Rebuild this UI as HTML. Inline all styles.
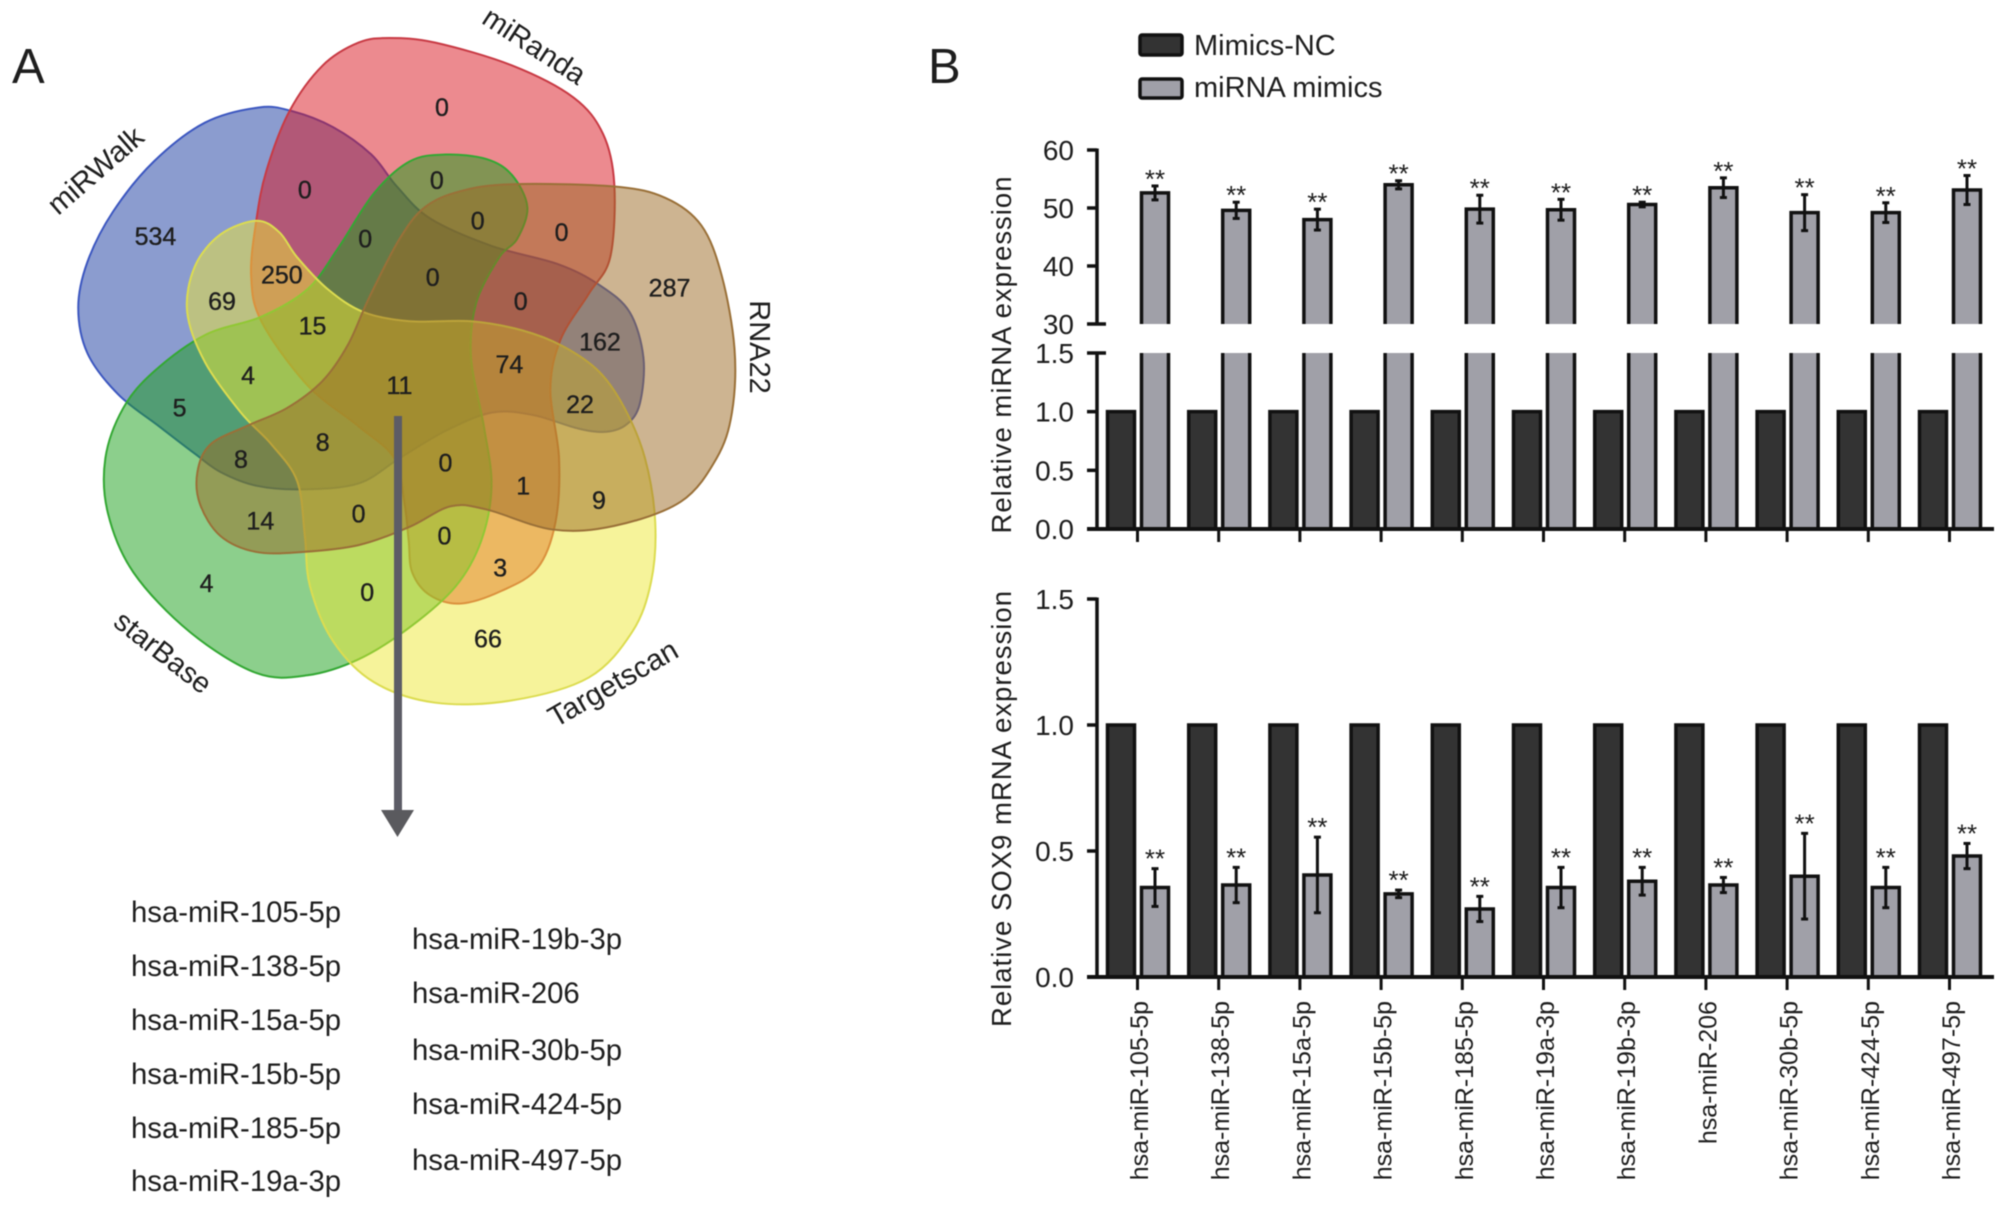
<!DOCTYPE html>
<html lang="en">
<head>
<meta charset="utf-8">
<title>Venn diagram and miRNA / SOX9 expression bar charts</title>
<style>
html,body{margin:0;padding:0;background:#fff;width:2008px;height:1208px;overflow:hidden}
svg{display:block;font-family:"Liberation Sans",sans-serif}
text{fill:#1e1e1e}
.soft{filter:blur(.65px)}
</style>
</head>
<body>
<svg id="fig" xmlns="http://www.w3.org/2000/svg" width="2008" height="1208" viewBox="0 0 2008 1208">
  <rect width="2008" height="1208" fill="#fff"/>
  <g id="root" class="soft">
    <text x="12" y="83" font-size="49">A</text>
    <text x="928" y="83" font-size="49">B</text>

    <g id="venn"></g>
    <g id="vennCounts"></g>

    <text font-size="29.500" text-anchor="middle" transform="translate(102,178) rotate(-41)">miRWalk</text>
    <text font-size="29" text-anchor="middle" transform="translate(529,54) rotate(33)">miRanda</text>
    <text font-size="29" text-anchor="middle" transform="translate(750,347) rotate(90)">RNA22</text>
    <text font-size="29" text-anchor="middle" transform="translate(157,660) rotate(38)">starBase</text>
    <text font-size="29.500" text-anchor="middle" transform="translate(618,692) rotate(-30)">Targetscan</text>

    <rect x="394" y="416" width="8" height="396" fill="#5c5c66"/>
    <polygon points="381,810 414,810 397.500,837" fill="#5a5a5e"/>

    <g font-size="29.300">
      <text x="131" y="922">hsa-miR-105-5p</text>
      <text x="131" y="976">hsa-miR-138-5p</text>
      <text x="131" y="1030">hsa-miR-15a-5p</text>
      <text x="131" y="1084">hsa-miR-15b-5p</text>
      <text x="131" y="1138">hsa-miR-185-5p</text>
      <text x="131" y="1191">hsa-miR-19a-3p</text>
    </g>
    <g font-size="29.300">
      <text x="412" y="949">hsa-miR-19b-3p</text>
      <text x="412" y="1003">hsa-miR-206</text>
      <text x="412" y="1060">hsa-miR-30b-5p</text>
      <text x="412" y="1114">hsa-miR-424-5p</text>
      <text x="412" y="1170">hsa-miR-497-5p</text>
    </g>

    <g>
      <g>
        <rect x="1140" y="35" width="42" height="20" rx="2" fill="#333" stroke="#111" stroke-width="3.500"/>
        <text x="1194" y="55" font-size="29">Mimics-NC</text>
      </g>
      <g>
        <rect x="1140" y="79" width="42" height="19" rx="2" fill="#a0a0a8" stroke="#111" stroke-width="3.500"/>
        <text x="1194" y="97" font-size="29">miRNA mimics</text>
      </g>
    </g>

    <text font-size="27.500" text-anchor="middle" transform="translate(1011,355) rotate(-90)" textLength="357" lengthAdjust="spacing">Relative miRNA expression</text>
    <text font-size="27.500" text-anchor="middle" transform="translate(1011,809) rotate(-90)" textLength="436" lengthAdjust="spacing">Relative SOX9 mRNA expression</text>

    <g id="charts"></g>
  </g>
</svg>
<script>
/* ---------- chart data ---------- */
var categories = ["hsa-miR-105-5p","hsa-miR-138-5p","hsa-miR-15a-5p","hsa-miR-15b-5p","hsa-miR-185-5p","hsa-miR-19a-3p","hsa-miR-19b-3p","hsa-miR-206","hsa-miR-30b-5p","hsa-miR-424-5p","hsa-miR-497-5p"];
var mirnaControl = [1,1,1,1,1,1,1,1,1,1,1];
var mirnaMimics = [52.6,49.6,48,54,49.8,49.7,50.6,53.5,49.2,49.2,53.1];
var mirnaError = [1.2,1.4,1.8,0.7,2.4,1.8,0.4,1.7,3.1,1.7,2.5];
var sox9Control = [1,1,1,1,1,1,1,1,1,1,1];
var sox9Mimics = [0.355,0.365,0.405,0.33,0.27,0.355,0.38,0.365,0.40,0.355,0.48];
var sox9Error = [0.075,0.07,0.15,0.015,0.05,0.08,0.055,0.03,0.17,0.08,0.05];
var upperTicks = [30,40,50,60];
var upperTickLabels = ["30","40","50","60"];
var lowerTicks = [0,0.5,1,1.5];
var lowerTickLabels = ["0.0","0.5","1.0","1.5"];
var sox9Ticks = [0,0.5,1,1.5];
var sox9TickLabels = ["0.0","0.5","1.0","1.5"];
var significance = ["**","**","**","**","**","**","**","**","**","**","**"];

/* ---------- venn data ---------- */
var vennNames = ["miRWalk","miRanda","starBase","Targetscan","RNA22"];
var vennColors = ["#17399f","#d9151f","#199f19","#ede735","#9b6923"];
var vennStrokes = ["#3c57c0","#c83a44","#33a833","#dcdc50","#9a7038"];
var vennOutlines = [
 [[505,232],[570,240],[650,275],[725,335],[775,405],[840,475],[960,535],[1090,575],[1170,620],[1230,680],[1257,780],[1250,880],[1225,925],[1185,942],[1130,935],[1040,905],[960,900],[870,940],[780,1000],[700,1055],[590,1068],[500,1060],[430,1030],[380,990],[310,930],[230,860],[170,770],[152,670],[170,570],[220,460],[300,350],[400,265]],
 [[760,80],[850,90],[1000,140],[1120,210],[1178,290],[1200,400],[1192,560],[1150,640],[1095,740],[1075,850],[1092,1000],[1085,1140],[1050,1240],[980,1290],[900,1318],[840,1300],[805,1250],[798,1180],[790,1100],[770,1000],[700,930],[600,840],[510,700],[490,600],[500,480],[520,370],[565,240],[630,140],[700,90]],
 [[870,335],[950,345],[1000,380],[1030,450],[1010,520],[975,560],[930,660],[920,780],[945,930],[960,1060],[940,1180],[890,1280],[800,1370],[700,1440],[600,1475],[500,1470],[370,1380],[260,1250],[210,1120],[205,1000],[240,890],[300,810],[400,730],[510,690],[600,630],[660,540],[730,420],[800,350]],
 [[500,480],[545,505],[580,560],[640,630],[710,680],[800,700],[920,700],[1020,720],[1100,755],[1170,810],[1220,890],[1260,1000],[1280,1140],[1272,1270],[1235,1380],[1150,1480],[1000,1530],[850,1535],[730,1490],[650,1400],[605,1280],[595,1170],[580,1050],[530,970],[470,900],[400,790],[365,680],[380,580],[430,510]],
 [[1000,400],[1200,405],[1300,430],[1370,490],[1410,600],[1435,760],[1430,900],[1400,1000],[1330,1095],[1200,1148],[1080,1156],[950,1112],[880,1105],[800,1150],[700,1190],[590,1205],[500,1205],[430,1170],[390,1100],[385,1030],[410,970],[480,930],[560,890],[630,830],[680,750],[720,650],[780,520],[830,450],[900,415]]
];
var vennValues = ["0","0","0","0","0","0","0","0","534","250","69","15","287","162","74","4","11","5","22","8","8","0","1","9","14","0","0","3","4","0","66"];
var vennSpots = [[863,230],[595,410],[853,390],[933,478],[1097,503],[713,518],[845,602],[1017,655],[303,512],[550,597],[433,655],[610,708],[1308,625],[1172,743],[995,793],[484,817],[780,838],[350,888],[1133,880],[630,963],[470,1000],[870,1008],[1022,1058],[1170,1090],[508,1135],[700,1120],[868,1168],[977,1238],[403,1272],[717,1292],[953,1393]];

var NS = "http://www.w3.org/2000/svg";
function make(tag, parent, attrs) {
  var e = document.createElementNS(NS, tag);
  for (var k in attrs) e.setAttribute(k, attrs[k]);
  parent.appendChild(e);
  return e;
}
function smooth(pts) {
  var n = pts.length, d = "M" + pts[0][0] + "," + pts[0][1];
  for (var i = 0; i < n; i++) {
    var p0 = pts[(i - 1 + n) % n], p1 = pts[i], p2 = pts[(i + 1) % n], p3 = pts[(i + 2) % n];
    d += "C" + (p1[0] + (p2[0] - p0[0]) / 6) + "," + (p1[1] + (p2[1] - p0[1]) / 6) + " " +
         (p2[0] - (p3[0] - p1[0]) / 6) + "," + (p2[1] - (p3[1] - p1[1]) / 6) + " " + p2[0] + "," + p2[1];
  }
  return d + "Z";
}

/* ---------- venn ---------- */
var SX = 0.5115, SY = 0.4568, OY = 1.5;
var vennG = document.getElementById("venn");
vennOutlines.forEach(function (pts, i) {
  var scaled = pts.map(function (p) { return [p[0] * SX + 0.5, p[1] * SY + OY]; });
  var petal = make("path", vennG, {d: smooth(scaled), fill: vennColors[i], "fill-opacity": 0.5, stroke: vennStrokes[i], "stroke-width": 2});
  
  
});
var countsG = document.getElementById("vennCounts");
vennValues.forEach(function (v, i) {
  var t = make("text", countsG, {x: vennSpots[i][0] * SX + 0.5, y: vennSpots[i][1] * SY + OY + 9.500, "font-size": 25, "text-anchor": "middle", stroke: "#1e1e1e", "stroke-width": 0.35});
  
  
  t.textContent = v;
});

/* ---------- axes ---------- */
var X0 = 1138, STEP = 81.200, BARW = 27;
function xCenter(i) { return X0 + STEP * i; }
function linear(d0, d1, r0, r1) { return function (v) { return r0 + (v - d0) * (r1 - r0) / (d1 - d0); }; }
var yUpper = linear(30, 60, 324, 150);
var yLower = linear(0, 1.5, 529, 353);
var ySox = linear(0, 1.5, 977, 599);
var AX = 1097;
var chartsG = document.getElementById("charts");

function line(parent, x1, y1, x2, y2, w, name) {
  var l = make("line", parent, {x1: x1, y1: y1, x2: x2, y2: y2, stroke: "#111", "stroke-width": w});
  
  
  return l;
}
function yAxis(parent, scale, ticks, labels, extTop, extBottom, prefix) {
  var top = scale(ticks[ticks.length - 1]), bottom = scale(ticks[0]);
  line(parent, AX, top - 1.5, AX, bottom + 1.5, 3.5, prefix + '-axis-line');
  ticks.forEach(function (v, i) {
    var y = scale(v);
    var right = (i === 0 && extBottom) || (i === ticks.length - 1 && extTop) ? AX + 9 : AX;
    line(parent, 1087, y, right, y, 3.5, prefix + '-tick');
    var t = make("text", parent, {x: 1074, y: y + 10, "font-size": 28, "text-anchor": "end"});
    
    
    t.textContent = labels[i];
  });
}
function openBar(parent, x, yTop, yBottom, w, fill, closedTop, closedBottom, name) {
  var r = make("rect", parent, {x: x - w / 2, y: yTop, width: w, height: yBottom - yTop, fill: fill});
  
  
  var d = "M" + (x - w / 2) + "," + yBottom + "L" + (x - w / 2) + "," + yTop;
  if (closedTop) { d += "L" + (x + w / 2) + "," + yTop; } else { d += "M" + (x + w / 2) + "," + yTop; }
  d += "L" + (x + w / 2) + "," + yBottom;
  var o = make("path", parent, {d: d, fill: "none", stroke: "#111", "stroke-width": 3.5});
  
  
}
function errorBar(parent, x, yHi, yLo, name) {
  line(parent, x, yHi, x, yLo, 3, name);
  line(parent, x - 3.500, yHi, x + 3.500, yHi, 3, name + '-cap-top');
  line(parent, x - 3.500, yLo, x + 3.500, yLo, 3, name + '-cap-bottom');
}
function star(parent, x, y, s) {
  var t = make("text", parent, {x: x, y: y, "font-size": 26, "text-anchor": "middle"});
  
  
  t.textContent = s;
}

/* ---------- top chart: miRNA expression with broken axis ---------- */
var gTop = make("g", chartsG, {});


yAxis(gTop, yUpper, upperTicks, upperTickLabels, false, true, 'mirna-upper');
yAxis(gTop, yLower, lowerTicks, lowerTickLabels, true, false, 'mirna-lower');
categories.forEach(function (c, i) {
  var xc = xCenter(i);
  openBar(gTop, xc - 17, yLower(mirnaControl[i]), yLower(0), BARW, "#333", true, true, 'bar-control-' + c);
  openBar(gTop, xc + 17, yLower(1.5), yLower(0), BARW, "#a0a0a8", false, true, 'bar-mimics-lower-' + c);
  openBar(gTop, xc + 17, yUpper(mirnaMimics[i]), yUpper(30), BARW, "#a0a0a8", true, false, 'bar-mimics-upper-' + c);
  errorBar(gTop, xc + 17, yUpper(mirnaMimics[i] + mirnaError[i]), yUpper(mirnaMimics[i] - mirnaError[i]), 'error-bar-mirna');
  star(gTop, xc + 17, yUpper(mirnaMimics[i] + mirnaError[i]) + 2, significance[i]);
  line(gTop, xc - 0.500, yLower(0), xc - 0.500, yLower(0) + 13, 3, 'x-tick-mirna');
});
line(gTop, 1087, yLower(0), 1994, yLower(0), 4, 'mirna-x-axis-line');

/* ---------- bottom chart: SOX9 mRNA expression ---------- */
var gBot = make("g", chartsG, {});


yAxis(gBot, ySox, sox9Ticks, sox9TickLabels, false, false, 'sox9');
categories.forEach(function (c, i) {
  var xc = xCenter(i);
  openBar(gBot, xc - 17, ySox(sox9Control[i]), ySox(0), BARW, "#333", true, true, 'bar-sox9-control-' + c);
  openBar(gBot, xc + 17, ySox(sox9Mimics[i]), ySox(0), BARW, "#a0a0a8", true, true, 'bar-sox9-mimics-' + c);
  errorBar(gBot, xc + 17, ySox(sox9Mimics[i] + sox9Error[i]), ySox(sox9Mimics[i] - sox9Error[i]), 'error-bar-sox9');
  star(gBot, xc + 17, ySox(sox9Mimics[i] + sox9Error[i]) - 1, significance[i]);
  line(gBot, xc - 0.500, ySox(0), xc - 0.500, ySox(0) + 13, 3, 'x-tick-sox9');
  var lab = make("text", gBot, {"font-size": 25, "text-anchor": "end", transform: "translate(" + (xc + 10) + ",1001) rotate(-90)"});
  
  
  lab.textContent = c;
});
line(gBot, 1087, ySox(0), 1994, ySox(0), 4, 'sox9-x-axis-line');
</script>
</body>
</html>
